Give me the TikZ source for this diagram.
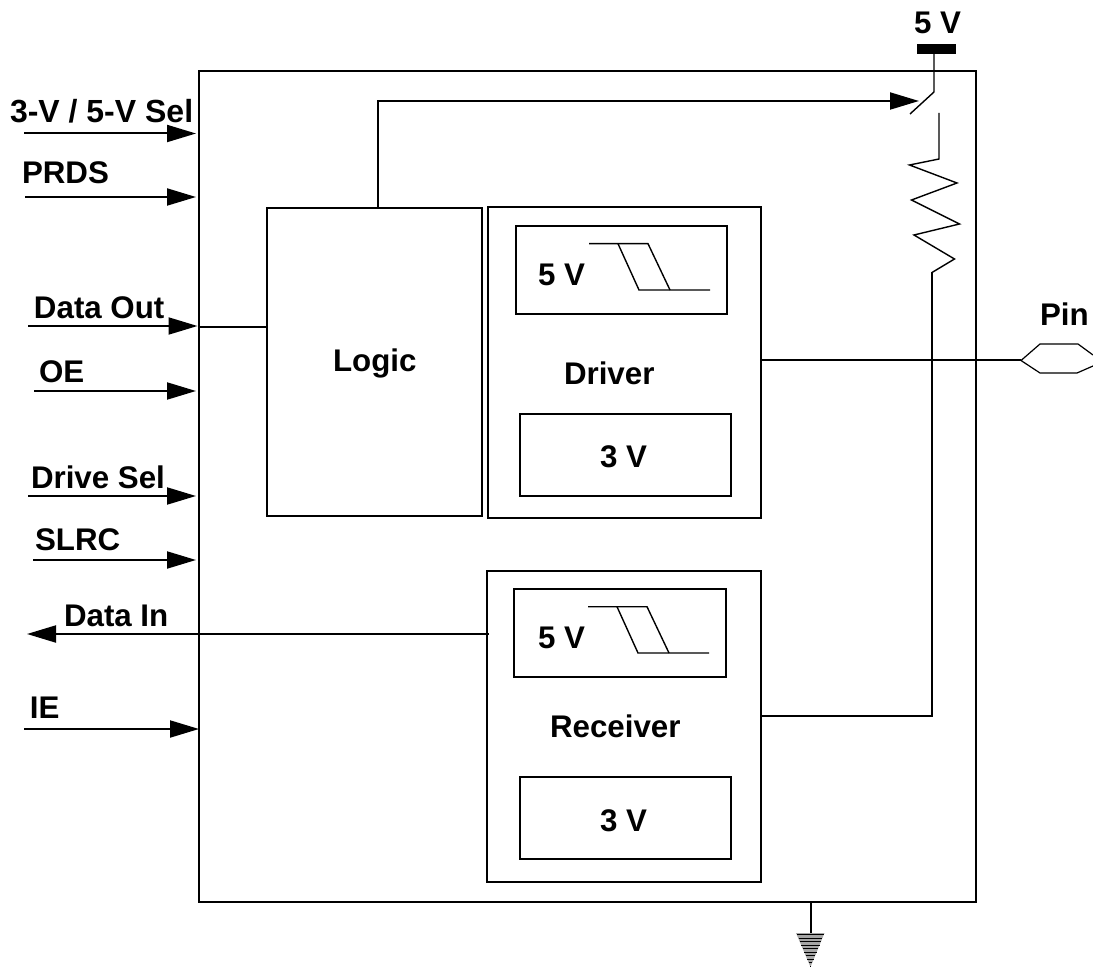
\documentclass[tikz,border=0pt]{standalone}
\usepackage{fontspec}
\setmainfont{Liberation Sans}
\usetikzlibrary{arrows.meta}
\tikzset{
  x=1pt,y=-1pt,
  box/.style={draw=black,line width=2pt,inner sep=0pt,outer sep=0pt},
  lbl/.style={anchor=base west,inner sep=0pt,outer sep=0pt,font=\fontsize{31.3}{32}\selectfont\bfseries},
  wire/.style={draw=black,line width=2pt},
  thin wire/.style={draw=black,line width=1.4pt},
  sig/.style={wire,-{Triangle[length=29pt,width=17pt]}},
}
\begin{document}
\begin{tikzpicture}
\useasboundingbox (0,0) rectangle (1093,968);
% boxes
\node[box,minimum width=777pt,minimum height=831pt] (chip) at (587.5,486.5) {};
\node[box,minimum width=215pt,minimum height=308pt] (logic) at (374.5,362) {};
\node[box,minimum width=273pt,minimum height=311pt] (driver) at (624.5,362.5) {};
\node[box,minimum width=211pt,minimum height=88pt] (d5) at (621.5,270) {};
\node[box,minimum width=211pt,minimum height=82pt] (d3) at (625.5,455) {};
\node[box,minimum width=274pt,minimum height=311pt] (receiver) at (624,726.5) {};
\node[box,minimum width=212pt,minimum height=88pt] (r5) at (620,633) {};
\node[box,minimum width=211pt,minimum height=82pt] (r3) at (625.5,818) {};
% labels
\node[lbl,font=\fontsize{32}{32}\selectfont\bfseries] (l1) at (10,123) {3-V / 5-V Sel};
\node[lbl] (l2) at (22,183.5) {PRDS};
\node[lbl] (l3) at (34,318.5) {Data Out};
\node[lbl] (l4) at (39,383) {OE};
\node[lbl] (l5) at (31,488.5) {Drive Sel};
\node[lbl] (l6) at (35,550) {SLRC};
\node[lbl] (l7) at (64,626.5) {Data In};
\node[lbl] (l8) at (30,718) {IE};
\node[lbl] (tlogic) at (333,371.5) {Logic};
\node[lbl] (tdriver) at (564,384.5) {Driver};
\node[lbl] (tr) at (550,737) {Receiver};
\node[lbl] (td5) at (538,285.5) {5 V};
\node[lbl] (td3) at (600,467.5) {3 V};
\node[lbl] (tr5) at (538,648.5) {5 V};
\node[lbl] (tr3) at (600,831.5) {3 V};
\node[lbl] (tpin) at (1040,326) {Pin};
\node[lbl] (t5v) at (914,34) {5 V};
% input arrows
\coordinate (a1s) at (24,133.5); \coordinate (a1e) at (196,133.5);
\coordinate (a2s) at (25,197); \coordinate (a2e) at (196,197);
\coordinate (a3s) at (28,326); \coordinate (a3e) at (197.5,326);
\coordinate (a4s) at (34,391); \coordinate (a4e) at (196,391);
\coordinate (a5s) at (28,496); \coordinate (a5e) at (196,496);
\coordinate (a6s) at (33,560); \coordinate (a6e) at (196,560);
\coordinate (a7s) at (489,634); \coordinate (a7e) at (27,634);
\coordinate (a8s) at (24,729); \coordinate (a8e) at (199,729);
\foreach \i in {1,2,3,4,5,6,7,8} \draw[sig] (a\i s) -- (a\i e);
\draw[wire] (chip.west |- 0,327.5) -- (logic.west |- 0,327.5);
% switch and supply
\node[fill=black,inner sep=0pt,outer sep=0pt,minimum width=39pt,minimum height=10pt] (bar) at (936.5,49) {};
\coordinate (swa) at (934,92); \coordinate (swb) at (910,114); \coordinate (swtip) at (919,101);
\draw[thin wire] (bar.south -| swa) -- (swa) -- (swb);
\draw[sig] (logic.north -| 378,0) -- (378,101) -- (swtip);
% resistor
\coordinate (rtop) at (939,113);
\coordinate (rbot) at (932,272.5);
\draw[thin wire,line join=miter] (rtop) -- (939,159) -- (909.5,165) -- (957,183) -- (911.5,200) -- (959.5,224) -- (914,235) -- (954.5,259) -- (rbot);
\draw[wire] (rbot) -- (932,716) -- (receiver.east |- 0,716);
% pin
\coordinate (pin) at (1021,360.5);
\draw[wire] (driver.east |- pin) -- (pin);
\draw[draw=black,line width=1.2pt] (1093,355) -- (1078,344) -- (1040,344) -- (pin) -- (1040,373) -- (1077,373) -- (1093,366);
% hysteresis
\draw[thin wire] (589,243.7) -- (648,243.7) -- (670,290);
\draw[thin wire] (618,243.7) -- (639,290) -- (710,290);
\draw[thin wire] (588,606.7) -- (647,606.7) -- (669,653);
\draw[thin wire] (617,606.7) -- (638,653) -- (709,653);
% ground
\coordinate (gnd) at (810.5,933);
\draw[wire] (chip.south -| gnd) -- (gnd);
\fill[black!35] (796,933) -- (824.5,933) -- (810.5,967) -- cycle;
\foreach \d in {1.5,5,...,33} \draw[draw=black,line width=1pt] (796.5+\d*0.41,933+\d) -- (824.5-\d*0.41,933+\d);
\end{tikzpicture}
\end{document}
